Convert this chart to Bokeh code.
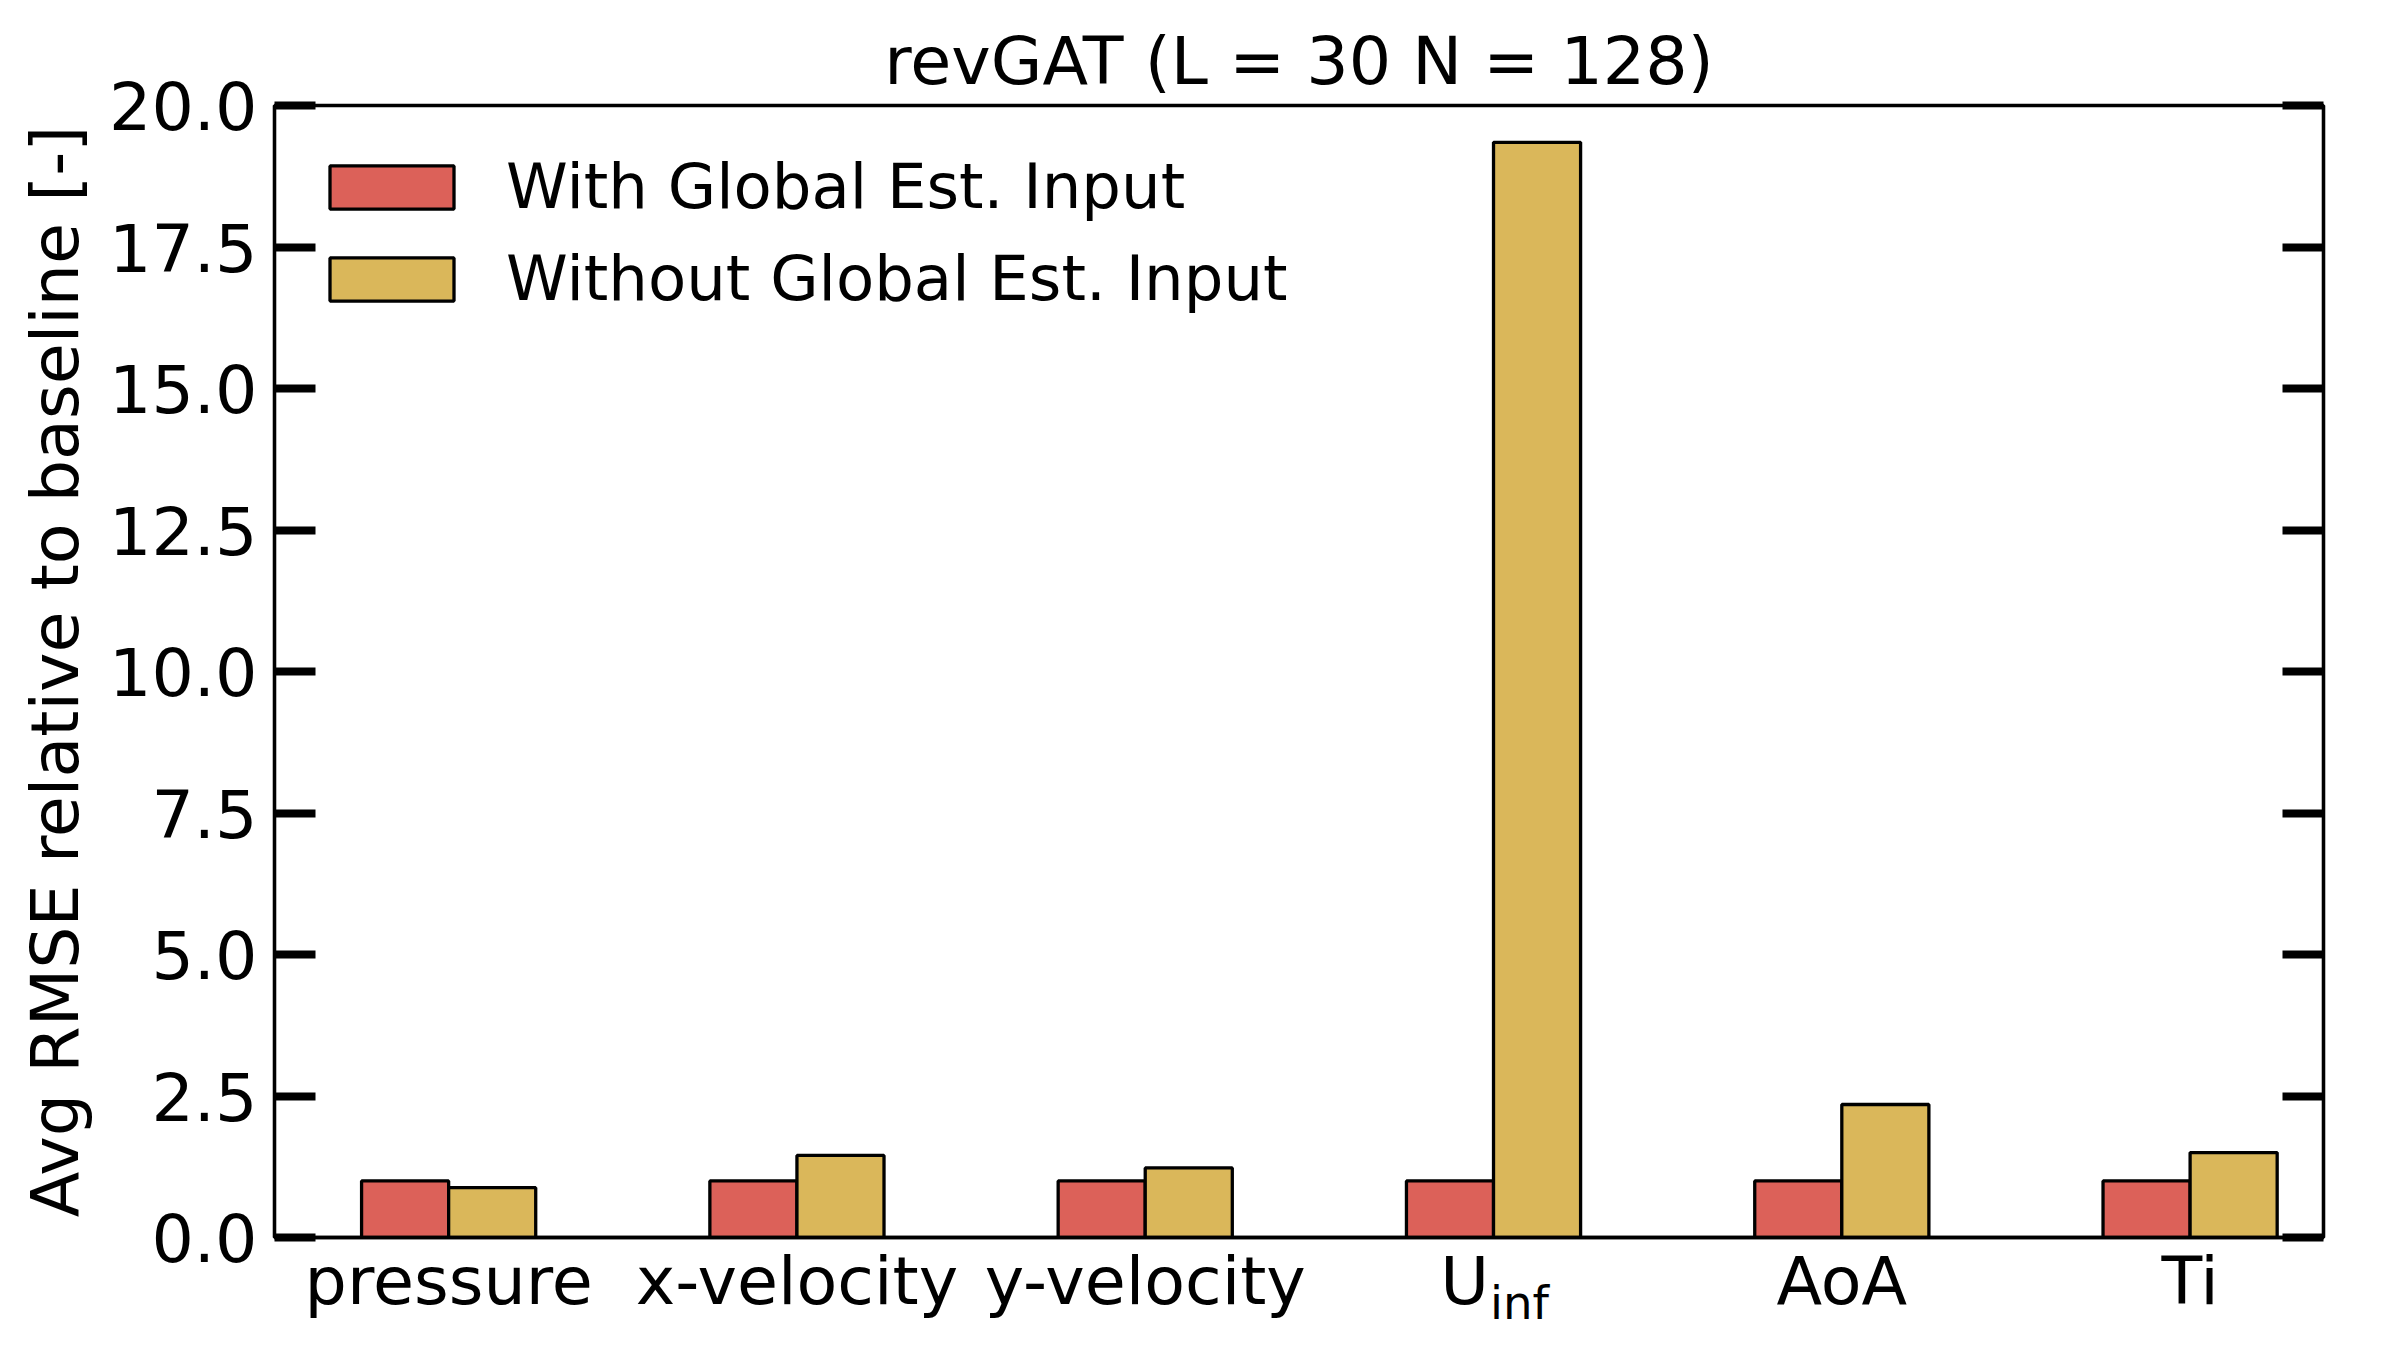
from bokeh.plotting import figure
from bokeh.models import (Range1d, FixedTicker, LinearAxis, Legend, LegendItem, Title,
                          CustomJSTickFormatter, ColumnDataSource, PrintfTickFormatter)
from bokeh.transform import dodge
from bokeh.embed import file_html
from bokeh.resources import INLINE

# ---------------- data ----------------
categories = ["pressure", "x-velocity", "y-velocity", "U_inf", "AoA", "Ti"]
tick_labels = ["pressure", "x-velocity", "y-velocity", "U", "AoA", "Ti"]
u_sub = "inf"
with_global = [1.0, 1.0, 1.0, 1.0, 1.0, 1.0]
without_global = [0.88, 1.45, 1.23, 19.35, 2.35, 1.50]
series_names = ["With Global Est. Input", "Without Global Est. Input"]
y_ticks = [0.0, 2.5, 5.0, 7.5, 10.0, 12.5, 15.0, 17.5, 20.0]
y_label = "Avg RMSE relative to baseline [-]"
title_text = "revGAT (L = 30 N = 128)"

# ---------------- style ----------------
RED = "#DC6159"
YEL = "#DAB75A"
FONT = "DejaVu Sans"
FS = "66.7px"
LEG_FS = "62.5px"
SUB_FS = "46.7px"
LW = 3.3

idx = list(range(len(categories)))
src = ColumnDataSource(dict(idx=idx, with_g=with_global, without_g=without_global))

p = figure(frame_width=2049, frame_height=1132,
           min_border_left=274, min_border_right=57, min_border_top=105, min_border_bottom=93,
           x_range=Range1d(-0.5, 5.383), y_range=Range1d(0, 20),
           output_backend="svg", toolbar_location=None,
           background_fill_color="white", border_fill_color="white")
p.grid.visible = False
p.outline_line_color = "black"
p.outline_line_width = LW

p.title = Title(text=title_text, align="center", offset=47, standoff=12,
                text_font=FONT, text_font_size=FS, text_font_style="normal",
                text_color="black")

r1 = p.vbar(x=dodge("idx", -0.125), top="with_g", width=0.25, source=src,
            fill_color=RED, line_color="black", line_width=LW)
r2 = p.vbar(x=dodge("idx", 0.125), top="without_g", width=0.25, source=src,
            fill_color=YEL, line_color="black", line_width=LW)

# left axis
ya = p.yaxis[0]
ya.ticker = FixedTicker(ticks=y_ticks)
ya.formatter = PrintfTickFormatter(format="%.1f")
ya.major_tick_in = 41
ya.major_tick_out = 0
ya.major_tick_line_width = 8
ya.minor_tick_line_color = None
ya.axis_line_width = LW
ya.major_label_text_font = FONT
ya.major_label_text_font_size = FS
ya.major_label_text_color = "black"
ya.major_label_standoff = 17
ya.axis_label = y_label
ya.axis_label_text_font = FONT
ya.axis_label_text_font_size = FS
ya.axis_label_text_font_style = "normal"
ya.axis_label_text_color = "black"
ya.axis_label_standoff = 12

# right axis (ticks only)
ra = LinearAxis(ticker=FixedTicker(ticks=y_ticks),
                formatter=CustomJSTickFormatter(code="return ''"),
                major_tick_in=41, major_tick_out=0, major_tick_line_width=8,
                minor_tick_line_color=None, axis_line_width=LW,
                major_label_text_font_size="10px")
p.add_layout(ra, "right")

# bottom axis; the U_inf label is split into "U" and a subscript "inf"
ui = categories.index("U_inf")
main_shift = -0.083   # shift of the "U" so that "U"+"inf" is centred on its group
sub_shift = 0.0746
tick_pos = [i + (main_shift if i == ui else 0.0) for i in idx]
tick_pos = [round(t, 4) for t in tick_pos]
xa = p.xaxis[0]
xa.ticker = FixedTicker(ticks=tick_pos)
xa.major_label_overrides = {t: lab for t, lab in zip(tick_pos, tick_labels)}
xa.major_tick_line_color = None
xa.major_tick_out = 0
xa.major_tick_in = 0
xa.minor_tick_line_color = None
xa.axis_line_width = LW
xa.major_label_text_font = FONT
xa.major_label_text_font_size = FS
xa.major_label_text_color = "black"
xa.major_label_standoff = 4

sub_pos = round(ui + sub_shift, 4)
xs = LinearAxis(ticker=FixedTicker(ticks=[sub_pos]), major_label_overrides={sub_pos: u_sub},
                axis_line_color=None, major_tick_line_color=None, major_tick_in=0,
                major_tick_out=0, minor_tick_line_color=None,
                major_label_standoff=-47, major_label_text_font=FONT,
                major_label_text_font_size=SUB_FS, major_label_text_color="black")
p.add_layout(xs, "below")

legend = Legend(items=[LegendItem(label=series_names[0], renderers=[r1]),
                       LegendItem(label=series_names[1], renderers=[r2])],
                location=(40, 920), glyph_width=155, glyph_height=54,
                label_standoff=37, label_height=77, spacing=15, padding=0, margin=0,
                border_line_color=None, background_fill_alpha=0,
                label_text_font=FONT, label_text_font_size=LEG_FS, label_text_color="black")
p.add_layout(legend)

open("out.html", "w").write(file_html(p, INLINE))
